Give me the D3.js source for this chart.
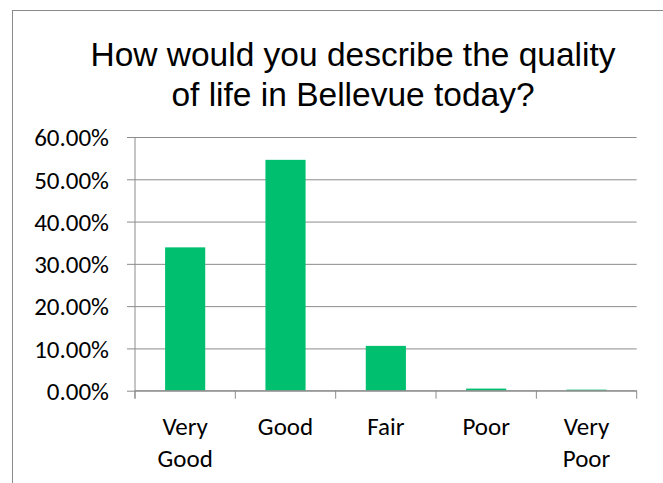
<!DOCTYPE html>
<html><head><meta charset="utf-8">
<script src="https://cdn.jsdelivr.net/npm/d3@7"></script>
<style>html,body{margin:0;padding:0;background:#fff;overflow:hidden}</style>
</head><body>
<svg id="c" width="663" height="483"></svg>
<script>
const titleLines = ["How would you describe the quality", "of life in Bellevue today?"];
const categories = ["Very Good", "Good", "Fair", "Poor", "Very Poor"];
const categoryLines = [["Very", "Good"], ["Good"], ["Fair"], ["Poor"], ["Very", "Poor"]];
const values = [0.339, 0.546, 0.106, 0.005, 0.0025];
const yTicks = [0, 0.1, 0.2, 0.3, 0.4, 0.5, 0.6];

(function () {
const svg = d3.select("#c");
const gridColor = "#8c8c8c";
const barColor = "#00BF6F";
const labelFont = "Carlito, Lato, 'Open Sans', sans-serif";

// chart frame (extends beyond the visible window on the right and bottom)
svg.append("rect").attr("x", 12.5).attr("y", 10.5).attr("width", 700).attr("height", 500)
  .attr("fill", "none").attr("stroke", "#8a8a8a").attr("stroke-width", 1);

// title
const title = svg.append("g");
titleLines.forEach((t, i) => {
  title.append("text").attr("x", 353).attr("y", 66 + i * 40)
    .attr("text-anchor", "middle")
    .attr("font-family", "'Liberation Sans', Arial, sans-serif")
    .attr("font-size", 33.5).attr("fill", "#000").text(t);
});

const pLeft = 135, pRight = 636.7, pTop = 137, pBottom = 390.7;
const x = d3.scaleBand().domain(categories).range([pLeft, pRight]).paddingInner(0.6).paddingOuter(0.3);
const y = d3.scaleLinear().domain([0, 0.6]).range([pBottom, pTop]);

// gridlines + y ticks
const yAxis = d3.axisLeft(y).tickValues(yTicks).tickSize(8).tickFormat(d3.format(".2%"));
const gy = svg.append("g").attr("transform", `translate(${pLeft},0)`).call(yAxis);
gy.select(".domain").remove();
gy.selectAll(".tick line").attr("stroke", gridColor).attr("x2", -8);
gy.selectAll(".tick").append("line").attr("x1", 0).attr("x2", pRight - pLeft).attr("stroke", gridColor);
gy.selectAll(".tick text").attr("x", -26).attr("dy", "0.35em")
  .attr("font-family", labelFont).attr("font-size", 25).attr("fill", "#000");

// bars
svg.append("g").selectAll("rect").data(categories).join("rect")
  .attr("x", d => x(d)).attr("width", x.bandwidth())
  .attr("y", (d, i) => y(values[i])).attr("height", (d, i) => y(0) - y(values[i]))
  .attr("fill", barColor);

// x axis line, ticks
const step = x.step();
const gx = svg.append("g");
gx.append("line").attr("x1", pLeft).attr("x2", pRight).attr("y1", pBottom).attr("y2", pBottom).attr("stroke", gridColor);
gx.append("line").attr("x1", pLeft).attr("x2", pLeft).attr("y1", pTop).attr("y2", pBottom + 8).attr("stroke", gridColor);
d3.range(categories.length + 1).forEach(i => {
  const xx = pLeft + i * step;
  gx.append("line").attr("x1", xx).attr("x2", xx).attr("y1", pBottom).attr("y2", pBottom + 8).attr("stroke", gridColor);
});
categories.forEach((c, i) => {
  const cx = x(c) + x.bandwidth() / 2;
  categoryLines[i].forEach((ln, j) => {
    gx.append("text").attr("x", cx).attr("y", 435 + j * 32).attr("text-anchor", "middle")
      .attr("font-family", labelFont).attr("font-size", 25).attr("fill", "#000").text(ln);
  });
});
})();
</script>
</body></html>
